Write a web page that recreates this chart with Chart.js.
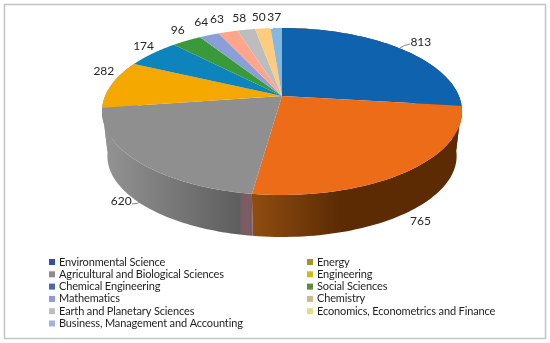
<!DOCTYPE html>
<html>
<head>
<meta charset="utf-8">
<script src="https://cdn.jsdelivr.net/npm/chart.js@4"></script>
<style>
	html, body { margin: 0; padding: 0; background: #fff; }
	#box { position: relative; width: 550px; height: 343px; }
</style>
</head>
<body>
<div id="box"><canvas id="grafico" width="550" height="343"></canvas></div>
<script>
var categorias = ['Environmental Science', 'Energy', 'Agricultural and Biological Sciences', 'Engineering', 'Chemical Engineering', 'Social Sciences', 'Mathematics', 'Chemistry', 'Earth and Planetary Sciences', 'Economics, Econometrics and Finance', 'Business, Management and Accounting'];
var valores = [813, 765, 620, 282, 174, 96, 64, 63, 58, 50, 37];

var coresFatia = ['#0f62ae', '#ec6c18', '#8f8f8f', '#f5a800', '#0d84bc', '#3a9a3a', '#8a9fd8', '#ffa58c', '#bdbdbd', '#ffcb7d', '#84b8e0'];
var coresLegenda = ['#2f4fa8', '#ab9226', '#8c8c8c', '#c9bc14', '#4a66b0', '#5f8a3c', '#9098d8', '#d0b88c', '#bdbdbd', '#dde088', '#a0b4e0'];
var desvioRotulo = [[21, -6], [12, 50], [-17, 39], [-8, -13], [-9, -7], [-9, -11], [-8, -13], [-11, -13], [-7, -12], [-4, -11], [-2, -11]];

// perspectiva do disco
var centroX = 282, centroY = 96, raioX = 176.9, raioY = 80.6, fuga = -0.1856;
var escalaBase = 0.97, baseY = 141;

function topo(ang) {
	var d = 1 + fuga * Math.sin(ang);
	return { x: centroX + raioX * Math.cos(ang) / d, y: centroY + raioY * Math.sin(ang) / d };
}

function base(ang) {
	var d = 1 + fuga * Math.sin(ang);
	return { x: centroX + escalaBase * raioX * Math.cos(ang) / d, y: baseY + escalaBase * raioY * Math.sin(ang) / d };
}

function corLateral(ctx, i) {
	var g;
	if (i === 2 || i === 3) {
		g = ctx.createLinearGradient(105, 0, 254, 0);
		g.addColorStop(0, '#939393');
		g.addColorStop(0.9, '#5e5e5e');
		g.addColorStop(0.92, '#7a5c62');
		g.addColorStop(1, '#7a5c62');
		return g;
	}
	g = ctx.createLinearGradient(254, 0, 340, 0);
	g.addColorStop(0, '#8f4c10');
	g.addColorStop(1, '#5c2b04');
	return g;
}

function desenhaLateral(ctx, el, i) {
	var passos = 60, k, a;
	ctx.beginPath();
	for (k = 0; k <= passos; k++) {
		a = el.startAngle + (el.endAngle - el.startAngle) * k / passos;
		var p = topo(a);
		ctx.lineTo(p.x, p.y);
	}
	for (k = passos; k >= 0; k--) {
		a = el.startAngle + (el.endAngle - el.startAngle) * k / passos;
		var q = base(a);
		ctx.lineTo(q.x, q.y);
	}
	ctx.closePath();
	ctx.fillStyle = corLateral(ctx, i);
	ctx.fill();
}

function desenhaTopo(ctx, el) {
	var passos = 60;
	ctx.beginPath();
	ctx.moveTo(centroX, centroY);
	for (var k = 0; k <= passos; k++) {
		var p = topo(el.startAngle + (el.endAngle - el.startAngle) * k / passos);
		ctx.lineTo(p.x, p.y);
	}
	ctx.closePath();
	ctx.fillStyle = el.options.backgroundColor;
	ctx.fill();
}

var pizza3d = {
	id: 'pizza3d',
	beforeDraw: function(chart) {
		var ctx = chart.ctx;
		ctx.save();
		ctx.strokeStyle = '#c4c4c4';
		ctx.lineWidth = 1.5;
		ctx.strokeRect(4.5, 4.5, 541, 334);
		ctx.restore();
	},
	beforeDatasetsDraw: function(chart) {
		var ctx = chart.ctx;
		var arcos = chart.getDatasetMeta(0).data;
		ctx.save();
		arcos.forEach(function(el, i) {
			if (Math.sin(el.startAngle) > 0 || Math.sin(el.endAngle) > 0) {
				desenhaLateral(ctx, el, i);
			}
		});
		arcos.forEach(function(el) {
			desenhaTopo(ctx, el);
		});

		// linhas de chamada
		ctx.strokeStyle = '#7f7f7f';
		ctx.lineWidth = 1;
		ctx.beginPath();
		ctx.moveTo(400, 48);
		ctx.quadraticCurveTo(404, 45, 410, 44);
		ctx.moveTo(132, 204);
		ctx.quadraticCurveTo(138, 204, 142, 201);
		ctx.stroke();

		ctx.fillStyle = '#262626';
		ctx.font = '12px Lato';
		ctx.textAlign = 'center';
		ctx.textBaseline = 'middle';
		arcos.forEach(function(el, i) {
			var p = topo((el.startAngle + el.endAngle) / 2);
			ctx.fillText(String(valores[i]), p.x + desvioRotulo[i][0], p.y + desvioRotulo[i][1]);
		});

		// legenda em duas colunas
		ctx.font = '11px Lato';
		ctx.letterSpacing = '-0.14px';
		ctx.textAlign = 'left';
		categorias.forEach(function(nome, i) {
			var col = i % 2, lin = Math.floor(i / 2);
			var x = col === 0 ? 49 : 307;
			var y = 262 + lin * 12.3;
			ctx.fillStyle = coresLegenda[i];
			ctx.fillRect(x, y - 3, 6, 6);
			ctx.fillStyle = '#1f1f1f';
			ctx.fillText(nome, x + 10, y);
		});
		ctx.restore();
		return false;
	}
};

var grafico = new Chart(document.getElementById('grafico').getContext('2d'), {
	type: 'pie',
	data: {
		labels: categorias,
		datasets: [{
			data: valores,
			backgroundColor: coresFatia,
			borderWidth: 0
		}]
	},
	options: {
		responsive: false,
		animation: false,
		plugins: {
			legend: { display: false },
			tooltip: { enabled: false }
		}
	},
	plugins: [pizza3d]
});
</script>
</body>
</html>
